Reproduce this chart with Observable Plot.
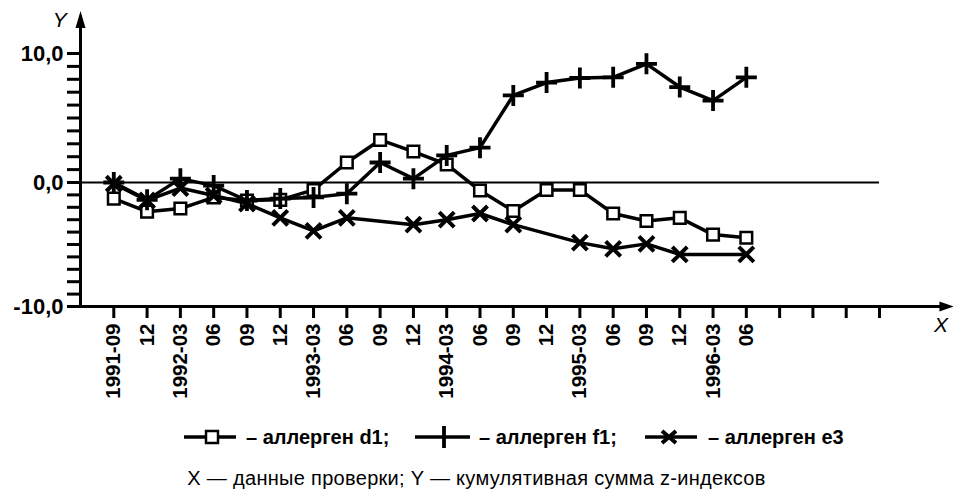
<!DOCTYPE html>
<html>
<head>
<meta charset="utf-8">
<script src="https://cdn.jsdelivr.net/npm/d3@7"></script>
<script src="https://cdn.jsdelivr.net/npm/@observablehq/plot@0.6"></script>
<style>
  html, body { margin: 0; padding: 0; background: #fff; }
  body { width: 953px; font-family: "Liberation Sans", Arial, sans-serif; }
  #legend { position: relative; width: 953px; height: 57px; }
  #caption { width: 953px; text-align: center; font-size: 20px; letter-spacing: 0.3px; line-height: 22px; color: #000; }
  #chart g[aria-label="y-axis tick label"] { font-size: 22px; }
  #chart g[aria-label="x-axis tick label"] { font-size: 20.5px; }
</style>
</head>
<body>
<div id="chart"></div>
<div id="legend"></div>
<div id="caption">X — данные проверки; Y — кумулятивная сумма z-индексов</div>
<script>
// ---- data ----
const periods = ["1991-09","1991-12","1992-03","1992-06","1992-09","1992-12","1993-03","1993-06","1993-09","1993-12",
                 "1994-03","1994-06","1994-09","1994-12","1995-03","1995-06","1995-09","1995-12","1996-03","1996-06",
                 "1996-09","1996-12","1997-03","1997-06"];
const tickLabels = ["1991-09","12","1992-03","06","09","12","1993-03","06","09","12",
                    "1994-03","06","09","12","1995-03","06","09","12","1996-03","06",
                    "","","",""];
const seriesNames = ["аллерген d1", "аллерген f1", "аллерген e3"];
const d1 = [-1.3, -2.35, -2.1, -1.2, -1.45, -1.4, -0.6, 1.55, 3.3, 2.4, 1.4, -0.65, -2.3, -0.6, -0.6, -2.5, -3.1, -2.85, -4.2, -4.45];
const f1 = [0.0, -1.4, 0.3, -0.25, -1.45, -1.3, -1.2, -0.9, 1.55, 0.3, 2.1, 2.7, 6.75, 7.75, 8.1, 8.15, 9.2, 7.4, 6.35, 8.15];
const e3 = [-0.1, -1.45, -0.45, -1.05, -1.7, -2.85, -3.9, -2.85, null, -3.4, -3.0, -2.5, -3.4, null, -4.85, -5.35, -4.95, -5.8, null, -5.8];
const yTicks = d3.range(-10, 11);
const yLabelled = [-10, 0, 10];

// ---- tidy table ----
const rows = [];
[d1, f1, e3].forEach((vals, s) => vals.forEach((v, i) => {
  if (v !== null) rows.push({series: seriesNames[s], i, period: periods[i], value: v});
}));
const bySeries = name => rows.filter(r => r.series === name);

// ---- custom symbols ----
const sqSym = {draw(c, size) { const r = Math.sqrt(size / Math.PI); c.rect(-r, -r, 2 * r, 2 * r); }};
const plusSym = {draw(c, size) { const r = Math.sqrt(size / Math.PI); c.moveTo(-r, 0); c.lineTo(r, 0); c.moveTo(0, -r); c.lineTo(0, r); }};
const timesSym = {draw(c, size) { const r = Math.sqrt(size / Math.PI); c.moveTo(-r, -r); c.lineTo(r, r); c.moveTo(-r, r); c.lineTo(r, -r); }};
const arrowUp = {draw(c) { c.moveTo(0, 0); c.lineTo(5, 17); c.lineTo(-5, 17); c.closePath(); }};
const arrowRight = {draw(c) { c.moveTo(0, 0); c.lineTo(-14, -5); c.lineTo(-14, 5); c.closePath(); }};

const lastTick = periods.length - 1;
const fmtY = d => d.toFixed(1).replace(".", ",");

const chart = Plot.plot({
  width: 953,
  height: 410,
  marginLeft: 80,
  marginRight: 74,
  marginTop: 53,
  marginBottom: 104,
  style: {fontFamily: "'Liberation Sans', Arial, sans-serif", fontSize: "20px", fontWeight: "bold", color: "#000", background: "#fff"},
  x: {type: "linear", domain: [-1, lastTick], range: [80, 879]},
  y: {type: "linear", domain: [-10, 0, 10], range: [306, 182, 53]},
  marks: [
    // zero line
    Plot.ruleY([0], {x1: -1, x2: lastTick, stroke: "#000", strokeWidth: 2}),
    // axes
    Plot.axisY({ticks: yTicks, tickSize: 13, tickPadding: 4, tickFormat: d => yLabelled.includes(d) ? fmtY(d) : "", strokeWidth: 3, label: null}),
    Plot.axisX({ticks: d3.range(periods.length), tickSize: 12, tickPadding: 5, tickRotate: -90, tickFormat: i => tickLabels[i], strokeWidth: 3, label: null}),
    Plot.ruleX([-1], {y1: -10, y2: 12.2, stroke: "#000", strokeWidth: 3}),
    Plot.ruleY([-10], {x1: -1, x2: 24.9, stroke: "#000", strokeWidth: 3}),
    Plot.dot([0], {x: -1, y: 13.3, symbol: arrowUp, fill: "#000", stroke: null}),
    Plot.dot([0], {x: 25.22, y: -10, symbol: arrowRight, fill: "#000", stroke: null}),
    Plot.text(["Y"], {x: -1.62, y: 12.6, text: d => d, fontStyle: "italic", fontWeight: "normal", fontSize: 21}),
    Plot.text(["X"], {x: 24.85, y: -11.55, text: d => d, fontStyle: "italic", fontWeight: "normal", fontSize: 21}),
    // series d1
    Plot.line(bySeries(seriesNames[0]), {x: "i", y: "value", stroke: "#000", strokeWidth: 3.5}),
    Plot.dot(bySeries(seriesNames[0]), {x: "i", y: "value", symbol: sqSym, r: 5.8, fill: "#fff", stroke: "#000", strokeWidth: 2.5}),
    // series f1
    Plot.line(bySeries(seriesNames[1]), {x: "i", y: "value", stroke: "#000", strokeWidth: 3.5}),
    Plot.dot(bySeries(seriesNames[1]), {x: "i", y: "value", symbol: plusSym, r: 10.5, fill: "none", stroke: "#000", strokeWidth: 3.8}),
    // series e3
    Plot.line(bySeries(seriesNames[2]), {x: "i", y: "value", stroke: "#000", strokeWidth: 3.5}),
    Plot.dot(bySeries(seriesNames[2]), {x: "i", y: "value", symbol: timesSym, r: 7.5, fill: "none", stroke: "#000", strokeWidth: 4})
  ]
});
document.getElementById("chart").appendChild(chart);

// ---- legend ----
const lg = d3.select("#legend").append("svg").attr("width", 953).attr("height", 57)
  .style("font-family", "'Liberation Sans', Arial, sans-serif");
const cy = 27;
const items = [
  {name: seriesNames[0], x0: 184, x1: 236, mx: 212, kind: "square", tx: 246, label: "– аллерген d1;"},
  {name: seriesNames[1], x0: 415, x1: 470, mx: 444, kind: "plus", tx: 479, label: "– аллерген f1;"},
  {name: seriesNames[2], x0: 645, x1: 697, mx: 669, kind: "times", tx: 708, label: "– аллерген e3"}
];
items.forEach(it => {
  lg.append("line").attr("x1", it.x0).attr("x2", it.x1).attr("y1", cy).attr("y2", cy).attr("stroke", "#000").attr("stroke-width", 3.5);
  if (it.kind === "square") {
    lg.append("rect").attr("x", it.mx - 6).attr("y", cy - 6).attr("width", 12).attr("height", 12).attr("fill", "#fff").attr("stroke", "#000").attr("stroke-width", 2.5);
  } else if (it.kind === "plus") {
    lg.append("path").attr("d", `M${it.mx},${cy - 11}V${cy + 11}`).attr("stroke", "#000").attr("stroke-width", 3.8);
  } else {
    lg.append("path").attr("d", `M${it.mx - 7},${cy - 6}L${it.mx + 7},${cy + 6}M${it.mx - 7},${cy + 6}L${it.mx + 7},${cy - 6}`).attr("stroke", "#000").attr("stroke-width", 4);
  }
  lg.append("text").attr("x", it.tx).attr("y", cy).attr("dy", "0.35em").attr("font-size", 20).attr("font-weight", "bold").text(it.label);
});
</script>
</body>
</html>
